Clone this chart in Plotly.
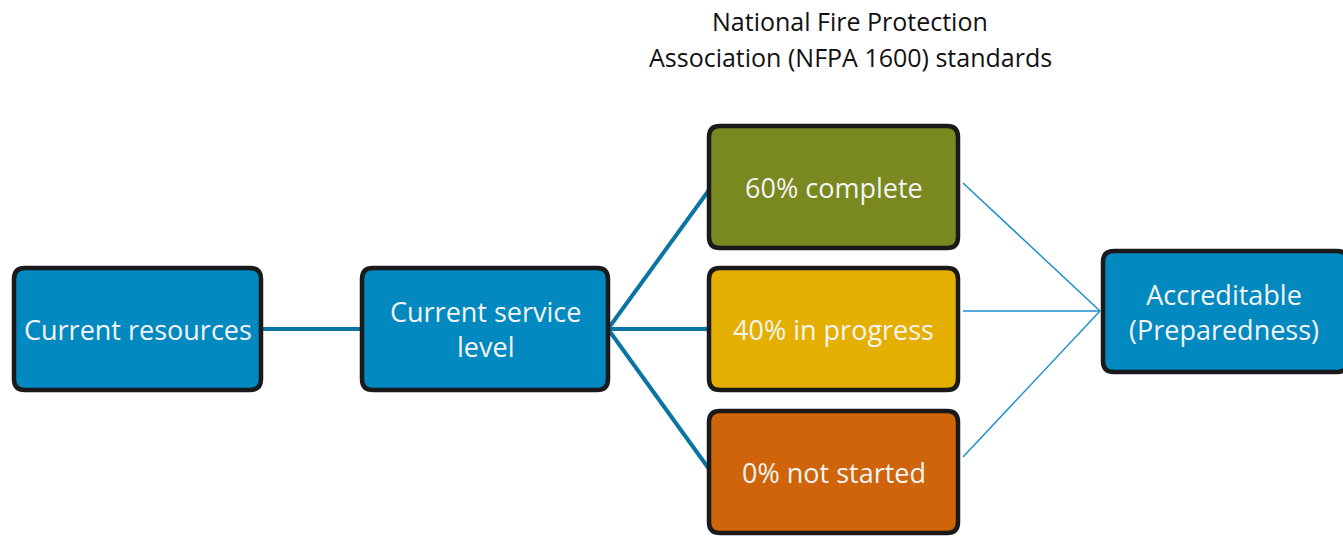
import plotly.graph_objects as go

# ---- content ----
title_lines = ["National Fire Protection", "Association (NFPA 1600) standards"]
node_labels = ["Current resources", "Current service<br>level", "60% complete",
               "40% in progress", "0% not started", "Accreditable<br>(Preparedness)"]
node_colors = ["#0289BF", "#0289BF", "#7A8820", "#E5AF00", "#CF640A", "#0289BF"]

# ---- layout (pixel coordinates, y downwards) ----
boxes = [  # x0, y0, x1, y1
    (14, 268, 261, 390),
    (362, 268, 608, 390),
    (709, 126, 958, 248),
    (709, 268, 958, 390),
    (709, 411, 958, 533),
    (1103, 251, 1348, 372),
]
thick_links = [((261, 329), (362, 329)),
               ((608, 329), (709, 190)),
               ((608, 329), (709, 329)),
               ((608, 329), (709, 469))]
thin_links = [((963, 183), (1100, 311)),
              ((963, 311), (1100, 311)),
              ((963, 457), (1100, 311))]

W, H = 1343, 537
FONT = "Open Sans"


def rrect(x0, y0, x1, y1, r=11):
    return (f"M {x0+r},{y0} L {x1-r},{y0} Q {x1},{y0} {x1},{y0+r} "
            f"L {x1},{y1-r} Q {x1},{y1} {x1-r},{y1} L {x0+r},{y1} "
            f"Q {x0},{y1} {x0},{y1-r} L {x0},{y0+r} Q {x0},{y0} {x0+r},{y0} Z")


fig = go.Figure()

for (a, b) in thick_links:
    fig.add_trace(go.Scatter(x=[a[0], b[0]], y=[a[1], b[1]], mode="lines",
                             line=dict(color="#0A74A3", width=4),
                             hoverinfo="skip", showlegend=False))
for (a, b) in thin_links:
    fig.add_trace(go.Scatter(x=[a[0], b[0]], y=[a[1], b[1]], mode="lines",
                             line=dict(color="#1A90CC", width=1.5),
                             hoverinfo="skip", showlegend=False))

shapes = []
for (x0, y0, x1, y1), col in zip(boxes, node_colors):
    shapes.append(dict(type="path", path=rrect(x0, y0, x1, y1), xref="x", yref="y",
                       fillcolor=col, line=dict(color="#1A1A1A", width=4.5),
                       layer="above"))

annotations = []
for (x0, y0, x1, y1), lab in zip(boxes, node_labels):
    cx = (x0 + x1) / 2 if x1 < W else (x0 + W) / 2 + 1
    annotations.append(dict(x=cx, y=(y0 + y1) / 2, xref="x", yref="y", text=lab,
                            showarrow=False, xanchor="center", yanchor="middle",
                            font=dict(family=FONT, size=27, color="#F4F4F4")))

for i, t in enumerate(title_lines):
    annotations.append(dict(x=850, y=21 + 36 * i, xref="x", yref="y", text=t,
                            showarrow=False, xanchor="center", yanchor="middle",
                            font=dict(family=FONT, size=25, color="#111111")))

fig.update_layout(
    width=W, height=H, margin=dict(l=0, r=0, t=0, b=0),
    paper_bgcolor="white", plot_bgcolor="white",
    xaxis=dict(range=[0, W], visible=False, fixedrange=True),
    yaxis=dict(range=[H, 0], visible=False, fixedrange=True),
    shapes=shapes, annotations=annotations,
)

fig.write_html("out.html", config={"displayModeBar": False},
               post_script="document.body.style.margin='0';"
                           "document.body.style.overflow='hidden';")
